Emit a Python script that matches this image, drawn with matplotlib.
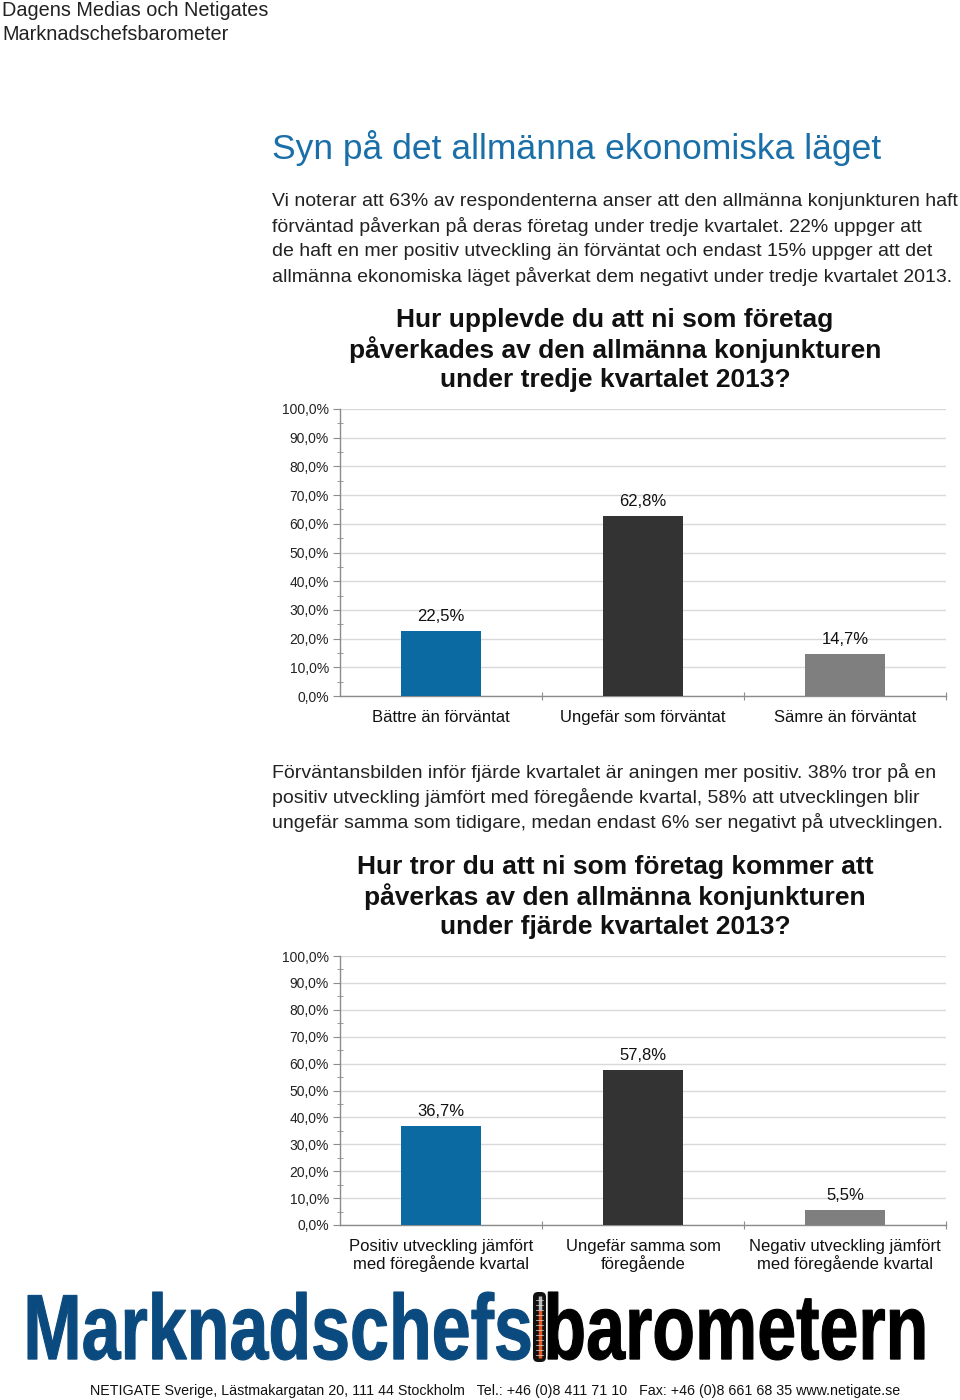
import matplotlib
matplotlib.use("Agg")
import matplotlib.pyplot as plt
from matplotlib.ticker import MultipleLocator, FuncFormatter
from matplotlib.textpath import TextPath
from matplotlib.patches import PathPatch, FancyBboxPatch
from matplotlib.font_manager import FontProperties
from matplotlib.transforms import Affine2D

# ---------------- data ----------------
cats1 = ["Bättre än förväntat", "Ungefär som förväntat", "Sämre än förväntat"]
vals1 = [22.5, 62.8, 14.7]
cats2 = ["Positiv utveckling jämfört\nmed föregående kvartal", "Ungefär samma som\nföregående",
         "Negativ utveckling jämfört\nmed föregående kvartal"]
vals2 = [36.7, 57.8, 5.5]
bar_colors = ["#0a6aa1", "#333333", "#7f7f7f"]
yticks = [0, 10, 20, 30, 40, 50, 60, 70, 80, 90, 100]

header = ["Dagens Medias och Netigates", "Marknadschefsbarometer"]
main_title = "Syn på det allmänna ekonomiska läget"
para1 = ["Vi noterar att 63% av respondenterna anser att den allmänna konjunkturen haft",
         "förväntad påverkan på deras företag under tredje kvartalet. 22% uppger att",
         "de haft en mer positiv utveckling än förväntat och endast 15% uppger att det",
         "allmänna ekonomiska läget påverkat dem negativt under tredje kvartalet 2013."]
chart1_title = ["Hur upplevde du att ni som företag",
                "påverkades av den allmänna konjunkturen",
                "under tredje kvartalet 2013?"]
para2 = ["Förväntansbilden inför fjärde kvartalet är aningen mer positiv. 38% tror på en",
         "positiv utveckling jämfört med föregående kvartal, 58% att utvecklingen blir",
         "ungefär samma som tidigare, medan endast 6% ser negativt på utvecklingen."]
chart2_title = ["Hur tror du att ni som företag kommer att",
                "påverkas av den allmänna konjunkturen",
                "under fjärde kvartalet 2013?"]
footer = "NETIGATE Sverige, Lästmakargatan 20, 111 44 Stockholm   Tel.: +46 (0)8 411 71 10   Fax: +46 (0)8 661 68 35 www.netigate.se"

W, H = 960, 1400
fig = plt.figure(figsize=(9.6, 14), dpi=100)
fig.patch.set_facecolor("white")

def fy(y):
    return 1 - y / H

def fx(x):
    return x / W

body_font = "Liberation Sans"

# header
for i, line in enumerate(header):
    fig.text(fx(2), fy(11 + 24 * i), line, ha="left", va="center", fontsize=14.3,
             color="#222222", family=body_font)

# main title
fig.text(fx(272), fy(148), main_title, ha="left", va="center", fontsize=25.5,
         color="#1a6fa8", family=body_font)

for i, line in enumerate(para1):
    fig.text(fx(272), fy(202 + 25 * i), line, ha="left", va="center", fontsize=14,
             color="#222222", family=body_font)

for i, line in enumerate(para2):
    fig.text(fx(272), fy(773 + 25 * i), line, ha="left", va="center", fontsize=14,
             color="#222222", family=body_font)


def make_chart(top_px, bottom_px, cats, vals, title, title_y):
    ax = fig.add_axes([fx(340), fy(bottom_px), fx(946) - fx(340), fy(top_px) - fy(bottom_px)])
    x = list(range(len(cats)))
    ax.bar(x, vals, width=0.4, color=bar_colors, zorder=3)
    ax.set_xlim(-0.5, len(cats) - 0.5)
    ax.set_ylim(0, 100)
    ax.set_yticks(yticks)
    ax.yaxis.set_minor_locator(MultipleLocator(5))
    ax.yaxis.set_major_formatter(FuncFormatter(lambda v, p: f"{v:.1f}%".replace(".", ",")))
    ax.grid(axis="y", which="major", color="#d9d9d9", linewidth=1, zorder=0)
    for s in ["top", "right"]:
        ax.spines[s].set_visible(False)
    for s in ["left", "bottom"]:
        ax.spines[s].set_color("#8c8c8c")
        ax.spines[s].set_linewidth(1)
    ax.tick_params(axis="y", which="major", length=5, color="#8c8c8c", labelsize=10,
                   labelcolor="#222222", pad=3)
    ax.tick_params(axis="y", which="minor", length=4, color="#8c8c8c", direction="inout")
    ax.set_xticks([i + 0.5 for i in range(len(cats))])
    ax.set_xticklabels([])
    ax.tick_params(axis="x", which="major", length=6, color="#8c8c8c", direction="inout")
    for lab in ax.get_yticklabels():
        lab.set_family(body_font)
    for xi, (c, v) in enumerate(zip(cats, vals)):
        ax.annotate(c, (xi, 0), xytext=(0, -10), textcoords="offset points",
                    ha="center", va="top", fontsize=12, family=body_font,
                    color="#111111", linespacing=1.1)
        ax.annotate(f"{v:.1f}%".replace(".", ","), (xi, v), xytext=(0, 5),
                    textcoords="offset points", ha="center", va="bottom",
                    fontsize=12, family=body_font, color="#111111")
    for i, line in enumerate(title):
        fig.text(fx(615), fy(title_y + 30 * i), line, ha="center", va="center",
                 fontsize=19, fontweight="bold", family=body_font, color="#111111")
    return ax

make_chart(409, 696, cats1, vals1, chart1_title, 320)
make_chart(956, 1225, cats2, vals2, chart2_title, 867)

# ---------------- logo ----------------
lax = fig.add_axes([0, 0, 1, 1])
lax.set_xlim(0, W)
lax.set_ylim(H, 0)
lax.axis("off")

fp = FontProperties(family="Liberation Sans", weight="bold")

def squeezed_text(s, x0, x1, ybase, height, color):
    tp = TextPath((0, 0), s, size=100, prop=fp)
    ext = tp.get_extents()
    sx = (x1 - x0) / ext.width
    sy = height / ext.height
    tr = Affine2D().translate(-ext.x0, -ext.y0).scale(sx, -sy).translate(x0, ybase)
    path = tr.transform_path(tp)
    lax.add_patch(PathPatch(path, facecolor=color, edgecolor=color, linewidth=0.8))

squeezed_text("Marknadschefs", 28, 530, 1360, 68, "#0b4a7e")
squeezed_text("barometern", 548, 924, 1360, 68, "#000000")
# thermometer
lax.add_patch(FancyBboxPatch((533, 1292), 13, 70, boxstyle="round,pad=0,rounding_size=5",
                             facecolor="#111111", edgecolor="none"))
lax.plot([539.5, 539.5], [1310, 1358], color="#e8581e", lw=2.5, solid_capstyle="butt")
lax.plot([539.5, 539.5], [1296, 1310], color="#bbbbbb", lw=2.5, solid_capstyle="butt")
for yy in range(1300, 1360, 5):
    lax.plot([536, 543], [yy, yy], color="#dddddd", lw=0.5)

fig.text(fx(495), fy(1391), footer, ha="center", va="center", fontsize=10.3,
         family=body_font, color="#111111")

fig.savefig("out.png", dpi=100, facecolor="white")
